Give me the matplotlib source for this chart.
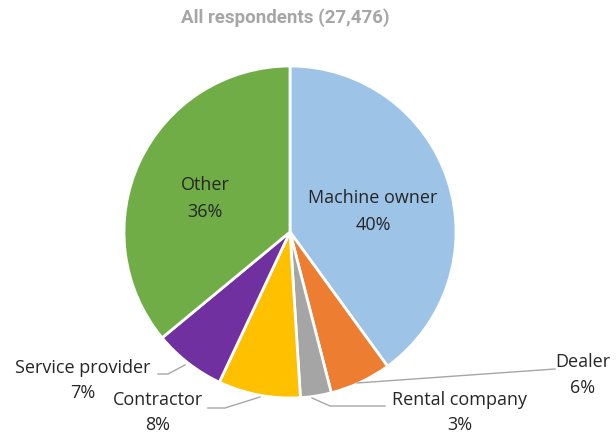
import matplotlib
matplotlib.use("Agg")
import matplotlib.pyplot as plt

categories = ["Machine owner", "Dealer", "Rental company", "Contractor", "Service provider", "Other"]
values = [40, 6, 3, 8, 7, 36]
colors = ["#9DC3E6", "#ED7D31", "#A5A5A5", "#FFC000", "#7030A0", "#70AD47"]
title = "All respondents (27,476)"

W, H = 616, 434
fig = plt.figure(figsize=(W / 100, H / 100), dpi=100)
ax = fig.add_axes([0, 0, 1, 1])
ax.set_xlim(0, W)
ax.set_ylim(0, H)
ax.set_aspect("equal")
ax.axis("off")

cx, cy, r = 290, H - 232, 166
ax.pie(values, colors=colors, startangle=90, counterclock=False,
       center=(cx, cy), radius=r,
       wedgeprops=dict(edgecolor="white", linewidth=2))
ax.set_xlim(0, W)
ax.set_ylim(0, H)

font = ["Open Sans", "DejaVu Sans"]
fs = 13
tc = "#262626"

# label positions (pixel coords, y from top): (x centre, y of name line, y of pct line)
label_pos = {
    "Machine owner": (373, 198, 225),
    "Other": (205, 185, 212),
    "Dealer": (583, 362, 388),
    "Rental company": (460, 400, 425),
    "Contractor": (158, 400, 425),
    "Service provider": (83, 368, 393),
}
for cat, val in zip(categories, values):
    x, y1, y2 = label_pos[cat]
    ax.text(x, H - y1, cat, ha="center", va="center", fontsize=fs,
            family=font, color=tc)
    ax.text(x, H - y2, f"{val}%", ha="center", va="center", fontsize=fs,
            family=font, color=tc)

leaders = [
    [(555, 369), (357, 383)],
    [(312, 398), (330, 406), (385, 406)],
    [(208, 408), (225, 408), (260, 397)],
    [(158, 374), (168, 374), (185, 365)],
]
for pts in leaders:
    xs = [p[0] for p in pts]
    ys = [H - p[1] for p in pts]
    ax.plot(xs, ys, color="#A6A6A6", lw=1)

fig.text(285 / W, 1 - 18 / H, title, ha="center", va="center", fontsize=13.5,
         family=["Roboto", "DejaVu Sans"], fontweight="bold", color="#A6A6A6")

fig.savefig("out.png", dpi=100)
